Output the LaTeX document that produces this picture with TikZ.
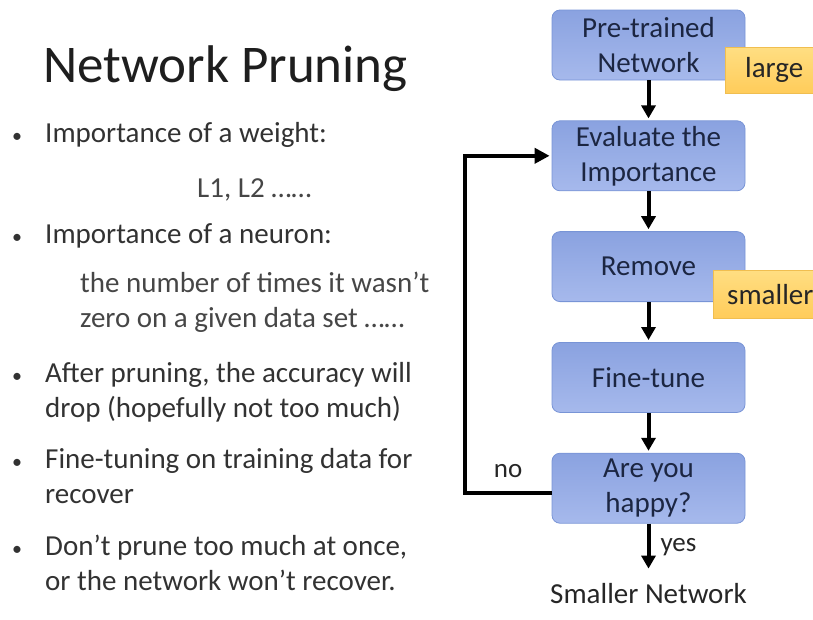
\documentclass[tikz,border=0pt]{standalone}
\usepackage{fontspec}
\setmainfont{Carlito}
\usetikzlibrary{arrows.meta,positioning}
\definecolor{ttlclr}{RGB}{30,30,30}
\definecolor{bodytxt}{RGB}{50,50,50}
\definecolor{subtxt}{RGB}{70,70,70}
\definecolor{boxbdr}{RGB}{120,148,214}
\definecolor{boxtop}{RGB}{138,162,224}
\definecolor{boxbot}{RGB}{166,185,236}
\definecolor{boxtxt}{RGB}{28,38,66}
\definecolor{tagbdr}{RGB}{240,190,80}
\definecolor{tagtop}{RGB}{255,222,130}
\definecolor{tagbot}{RGB}{255,204,90}
\tikzset{
  ttl/.style={anchor=base west,inner sep=0pt,text=ttlclr,
    font=\fontsize{53}{60}\selectfont},
  txt/.style={anchor=base west,inner sep=0pt,text=bodytxt,
    font=\fontsize{29}{35}\selectfont},
  subln/.style={txt,text=subtxt},
  dot/.style={anchor=base,inner sep=0pt,text=bodytxt,
    font=\fontsize{20}{24}\selectfont},
  flowbox/.style={rectangle,rounded corners=8pt,draw=boxbdr,thick,
    top color=boxtop,bottom color=boxbot,
    minimum width=193pt,minimum height=70pt,inner sep=2pt,
    font=\fontsize{29}{35}\selectfont,align=center,text=boxtxt},
  tagbox/.style={rectangle,draw=tagbdr,top color=tagtop,bottom color=tagbot,
    anchor=north west,inner sep=2pt,
    font=\fontsize{29}{35}\selectfont,text=black!85},
  outtxt/.style={inner xsep=0pt,inner ysep=13pt,text=black!85,
    font=\fontsize{29}{35}\selectfont},
  flowarr/.style={-{Triangle[length=13pt,width=14pt]},line width=4pt,
    shorten >=2pt},
  lbl/.style={font=\fontsize{27}{32}\selectfont,text=black!85,inner sep=0pt},
}
\begin{document}
\begin{tikzpicture}[x=1pt,y=-1pt,node distance=40pt]
  \useasboundingbox (0,0) rectangle (813,619);

  % left column
  \node[ttl] (title) at (43,82) {Network Pruning};

  \foreach \yb in {142,243,382,468,555}
    \node[dot] (b\yb) at (17,\yb) {\textbullet};

  \node[txt]   (w1) at (45,142) {Importance of a weight:};
  \node[subln] (w2) at (197,197) {L1, L2 ……};
  \node[txt]   (n1) at (45,243) {Importance of a neuron:};
  \node[subln] (n2) at (80,292) {the number of times it wasn’t};
  \node[subln] (n3) at (80,327) {zero on a given data set ……};
  \node[txt]   (a1) at (45,382) {After pruning, the accuracy will};
  \node[txt]   (a2) at (45,417) {drop (hopefully not too much)};
  \node[txt]   (f1) at (45,468) {Fine-tuning on training data for};
  \node[txt]   (f2) at (45,503) {recover};
  \node[txt]   (d1) at (45,555) {Don’t prune too much at once,};
  \node[txt]   (d2) at (45,590) {or the network won’t recover.};

  % flow chart
  \node[flowbox] (pre) at (648.5,45) {Pre-trained\\Network};
  \node[flowbox,below=of pre]    (eval)   {Evaluate the\\Importance};
  \node[flowbox,below=of eval]   (remove) {Remove};
  \node[flowbox,below=of remove] (tune)   {Fine-tune};
  \node[flowbox,below=of tune]   (happy)  {Are you\\happy?};
  \node[outtxt,below=47pt of happy] (small) {Smaller Network};

  \node[tagbox,minimum height=46pt,text width=140pt,align=left,
    inner xsep=20pt] (large) at (725,47) {large};
  \node[tagbox,minimum height=48pt,text width=140pt,align=left,
    inner xsep=14pt] (smaller) at (713,270) {smaller};

  \foreach \a/\b in {pre/eval,eval/remove,remove/tune,tune/happy}
    \draw[flowarr] (\a) -- (\b);

  \draw[flowarr] (happy) -- (small)
    node[lbl,midway,right=10pt] (yes) {yes};

  % loop back
  \draw[flowarr,-{Triangle[length=15pt,width=15pt]}]
    ([yshift=-5pt]happy.west) -- ++(-87,0)
    node[lbl,midway,above=14pt] (no) {no}
    |- (eval.west);

\end{tikzpicture}
\end{document}
